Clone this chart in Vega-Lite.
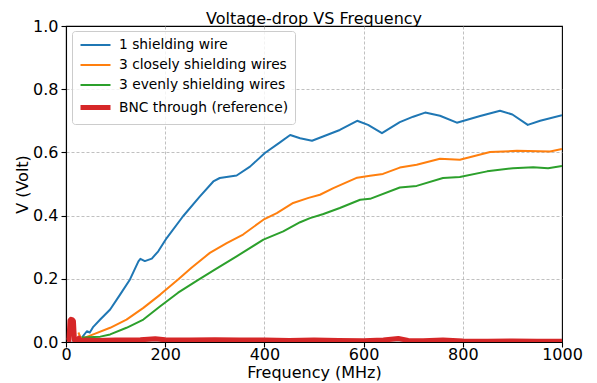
{
  "$schema": "https://vega.github.io/schema/vega-lite/v6.json",
  "width": 496,
  "height": 316,
  "autosize": "none",
  "padding": {"left": 66, "top": 26, "right": 35, "bottom": 41},
  "title": {"text": "Voltage-drop VS Frequency", "fontSize": 16, "fontWeight": "normal", "font": "DejaVu Sans", "color": "black", "offset": -9},
  "data": {"values": [
    {"s":"1 shielding wire","f":32,"v":0.014},{"s":"1 shielding wire","f":42,"v":0.034},{"s":"1 shielding wire","f":48,"v":0.03},{"s":"1 shielding wire","f":55,"v":0.048},{"s":"1 shielding wire","f":69,"v":0.071},{"s":"1 shielding wire","f":89,"v":0.103},{"s":"1 shielding wire","f":109,"v":0.15},{"s":"1 shielding wire","f":129,"v":0.198},{"s":"1 shielding wire","f":146,"v":0.255},{"s":"1 shielding wire","f":150,"v":0.263},{"s":"1 shielding wire","f":159,"v":0.256},{"s":"1 shielding wire","f":173,"v":0.264},{"s":"1 shielding wire","f":186,"v":0.287},{"s":"1 shielding wire","f":203,"v":0.329},{"s":"1 shielding wire","f":236,"v":0.398},{"s":"1 shielding wire","f":270,"v":0.461},{"s":"1 shielding wire","f":297,"v":0.508},{"s":"1 shielding wire","f":310,"v":0.519},{"s":"1 shielding wire","f":344,"v":0.527},{"s":"1 shielding wire","f":371,"v":0.555},{"s":"1 shielding wire","f":401,"v":0.598},{"s":"1 shielding wire","f":430,"v":0.63},{"s":"1 shielding wire","f":452,"v":0.655},{"s":"1 shielding wire","f":472,"v":0.645},{"s":"1 shielding wire","f":496,"v":0.637},{"s":"1 shielding wire","f":526,"v":0.655},{"s":"1 shielding wire","f":552,"v":0.671},{"s":"1 shielding wire","f":587,"v":0.7},{"s":"1 shielding wire","f":609,"v":0.687},{"s":"1 shielding wire","f":637,"v":0.661},{"s":"1 shielding wire","f":673,"v":0.696},{"s":"1 shielding wire","f":700,"v":0.713},{"s":"1 shielding wire","f":724,"v":0.726},{"s":"1 shielding wire","f":754,"v":0.716},{"s":"1 shielding wire","f":788,"v":0.694},{"s":"1 shielding wire","f":835,"v":0.715},{"s":"1 shielding wire","f":875,"v":0.732},{"s":"1 shielding wire","f":900,"v":0.72},{"s":"1 shielding wire","f":931,"v":0.687},{"s":"1 shielding wire","f":956,"v":0.7},{"s":"1 shielding wire","f":1000,"v":0.718},
    {"s":"3 closely shielding wires","f":25,"v":0.03},{"s":"3 closely shielding wires","f":30,"v":0.012},{"s":"3 closely shielding wires","f":38,"v":0.014},{"s":"3 closely shielding wires","f":55,"v":0.024},{"s":"3 closely shielding wires","f":89,"v":0.045},{"s":"3 closely shielding wires","f":122,"v":0.071},{"s":"3 closely shielding wires","f":156,"v":0.108},{"s":"3 closely shielding wires","f":190,"v":0.15},{"s":"3 closely shielding wires","f":226,"v":0.198},{"s":"3 closely shielding wires","f":253,"v":0.235},{"s":"3 closely shielding wires","f":290,"v":0.282},{"s":"3 closely shielding wires","f":324,"v":0.313},{"s":"3 closely shielding wires","f":357,"v":0.34},{"s":"3 closely shielding wires","f":398,"v":0.387},{"s":"3 closely shielding wires","f":425,"v":0.408},{"s":"3 closely shielding wires","f":458,"v":0.44},{"s":"3 closely shielding wires","f":489,"v":0.456},{"s":"3 closely shielding wires","f":512,"v":0.466},{"s":"3 closely shielding wires","f":539,"v":0.487},{"s":"3 closely shielding wires","f":587,"v":0.52},{"s":"3 closely shielding wires","f":613,"v":0.526},{"s":"3 closely shielding wires","f":639,"v":0.532},{"s":"3 closely shielding wires","f":673,"v":0.552},{"s":"3 closely shielding wires","f":707,"v":0.561},{"s":"3 closely shielding wires","f":754,"v":0.58},{"s":"3 closely shielding wires","f":794,"v":0.577},{"s":"3 closely shielding wires","f":855,"v":0.601},{"s":"3 closely shielding wires","f":909,"v":0.605},{"s":"3 closely shielding wires","f":976,"v":0.603},{"s":"3 closely shielding wires","f":1000,"v":0.611},
    {"s":"3 evenly shielding wires","f":32,"v":0.014},{"s":"3 evenly shielding wires","f":69,"v":0.017},{"s":"3 evenly shielding wires","f":89,"v":0.024},{"s":"3 evenly shielding wires","f":122,"v":0.045},{"s":"3 evenly shielding wires","f":156,"v":0.071},{"s":"3 evenly shielding wires","f":190,"v":0.113},{"s":"3 evenly shielding wires","f":226,"v":0.156},{"s":"3 evenly shielding wires","f":265,"v":0.195},{"s":"3 evenly shielding wires","f":300,"v":0.229},{"s":"3 evenly shielding wires","f":344,"v":0.271},{"s":"3 evenly shielding wires","f":398,"v":0.324},{"s":"3 evenly shielding wires","f":438,"v":0.35},{"s":"3 evenly shielding wires","f":472,"v":0.379},{"s":"3 evenly shielding wires","f":492,"v":0.392},{"s":"3 evenly shielding wires","f":519,"v":0.405},{"s":"3 evenly shielding wires","f":552,"v":0.424},{"s":"3 evenly shielding wires","f":593,"v":0.45},{"s":"3 evenly shielding wires","f":613,"v":0.453},{"s":"3 evenly shielding wires","f":673,"v":0.489},{"s":"3 evenly shielding wires","f":707,"v":0.494},{"s":"3 evenly shielding wires","f":760,"v":0.519},{"s":"3 evenly shielding wires","f":794,"v":0.522},{"s":"3 evenly shielding wires","f":849,"v":0.54},{"s":"3 evenly shielding wires","f":901,"v":0.55},{"s":"3 evenly shielding wires","f":942,"v":0.553},{"s":"3 evenly shielding wires","f":972,"v":0.55},{"s":"3 evenly shielding wires","f":1000,"v":0.557},
    {"s":"BNC through (reference)","f":2,"v":0.004},{"s":"BNC through (reference)","f":6,"v":0.006},{"s":"BNC through (reference)","f":8,"v":0.068},{"s":"BNC through (reference)","f":10,"v":0.072},{"s":"BNC through (reference)","f":13,"v":0.07},{"s":"BNC through (reference)","f":15,"v":0.066},{"s":"BNC through (reference)","f":17,"v":0.006},{"s":"BNC through (reference)","f":22,"v":0.004},{"s":"BNC through (reference)","f":26,"v":0.012},{"s":"BNC through (reference)","f":28,"v":0.004},{"s":"BNC through (reference)","f":40,"v":0.006},{"s":"BNC through (reference)","f":60,"v":0.005},{"s":"BNC through (reference)","f":100,"v":0.006},{"s":"BNC through (reference)","f":150,"v":0.007},{"s":"BNC through (reference)","f":180,"v":0.01},{"s":"BNC through (reference)","f":200,"v":0.007},{"s":"BNC through (reference)","f":250,"v":0.006},{"s":"BNC through (reference)","f":300,"v":0.007},{"s":"BNC through (reference)","f":350,"v":0.006},{"s":"BNC through (reference)","f":400,"v":0.006},{"s":"BNC through (reference)","f":450,"v":0.005},{"s":"BNC through (reference)","f":500,"v":0.006},{"s":"BNC through (reference)","f":550,"v":0.005},{"s":"BNC through (reference)","f":600,"v":0.004},{"s":"BNC through (reference)","f":640,"v":0.006},{"s":"BNC through (reference)","f":670,"v":0.011},{"s":"BNC through (reference)","f":690,"v":0.005},{"s":"BNC through (reference)","f":720,"v":0.004},{"s":"BNC through (reference)","f":760,"v":0.006},{"s":"BNC through (reference)","f":800,"v":0.003},{"s":"BNC through (reference)","f":850,"v":0.002},{"s":"BNC through (reference)","f":900,"v":0.003},{"s":"BNC through (reference)","f":950,"v":0.002},{"s":"BNC through (reference)","f":1000,"v":0.002}
  ]},
  "mark": {"type": "line", "clip": true, "strokeJoin": "round", "strokeCap": "butt"},
  "encoding": {
    "x": {"field": "f", "type": "quantitative", "title": "Frequency (MHz)",
      "scale": {"domain": [0, 1000], "nice": false, "zero": false},
      "axis": {"values": [0, 200, 400, 600, 800, 1000], "format": "d",
        "gridOpacity": {"condition": {"test": "datum.value == 0 || datum.value == 1000", "value": 0}, "value": 1}}},
    "y": {"field": "v", "type": "quantitative", "title": "V (Volt)",
      "scale": {"domain": [0, 1], "nice": false},
      "axis": {"values": [0, 0.2, 0.4, 0.6, 0.8, 1.0], "format": ".1f",
        "gridOpacity": {"condition": {"test": "datum.value == 0 || datum.value == 1", "value": 0}, "value": 1}}},
    "color": {"field": "s", "type": "nominal", "title": null,
      "scale": {"domain": ["1 shielding wire", "3 closely shielding wires", "3 evenly shielding wires", "BNC through (reference)"],
                "range": ["#1f77b4", "#ff7f0e", "#2ca02c", "#d62728"]}},
    "strokeWidth": {"field": "s", "type": "nominal", "title": null,
      "scale": {"type": "ordinal", "domain": ["1 shielding wire", "3 closely shielding wires", "3 evenly shielding wires", "BNC through (reference)"],
                "range": [2, 2, 2, 5]}}
  },
  "config": {
    "font": "DejaVu Sans",
    "view": {"stroke": "black", "strokeWidth": 1.1},
    "axis": {
      "labelFontSize": 16, "labelColor": "black", "labelFont": "DejaVu Sans",
      "titleFontSize": 16, "titleColor": "black", "titleFontWeight": "normal", "titleFont": "DejaVu Sans",
      "domainColor": "black", "domainWidth": 1.1, "tickColor": "black", "tickSize": 5, "tickWidth": 1.1,
      "gridColor": "#b0b0b0", "gridDash": [3, 2], "gridWidth": 0.8, "labelFlush": false, "labelOverlap": false
    },
    "axisX": {"labelPadding": -1, "titlePadding": 2},
    "axisY": {"labelPadding": 3, "titlePadding": 2},
    "legend": {
      "orient": "none", "legendX": 6, "legendY": 5,
      "symbolType": "M-1,0H3.2857", "symbolSize": 196, "labelFontSize": 13.8, "labelColor": "black", "labelFont": "DejaVu Sans",
      "labelLimit": 0,
      "fillColor": "rgba(255,255,255,0.8)", "strokeColor": "#cccccc", "cornerRadius": 3, "padding": 6,
      "rowPadding": 5, "labelOffset": 22
    }
  }
}
